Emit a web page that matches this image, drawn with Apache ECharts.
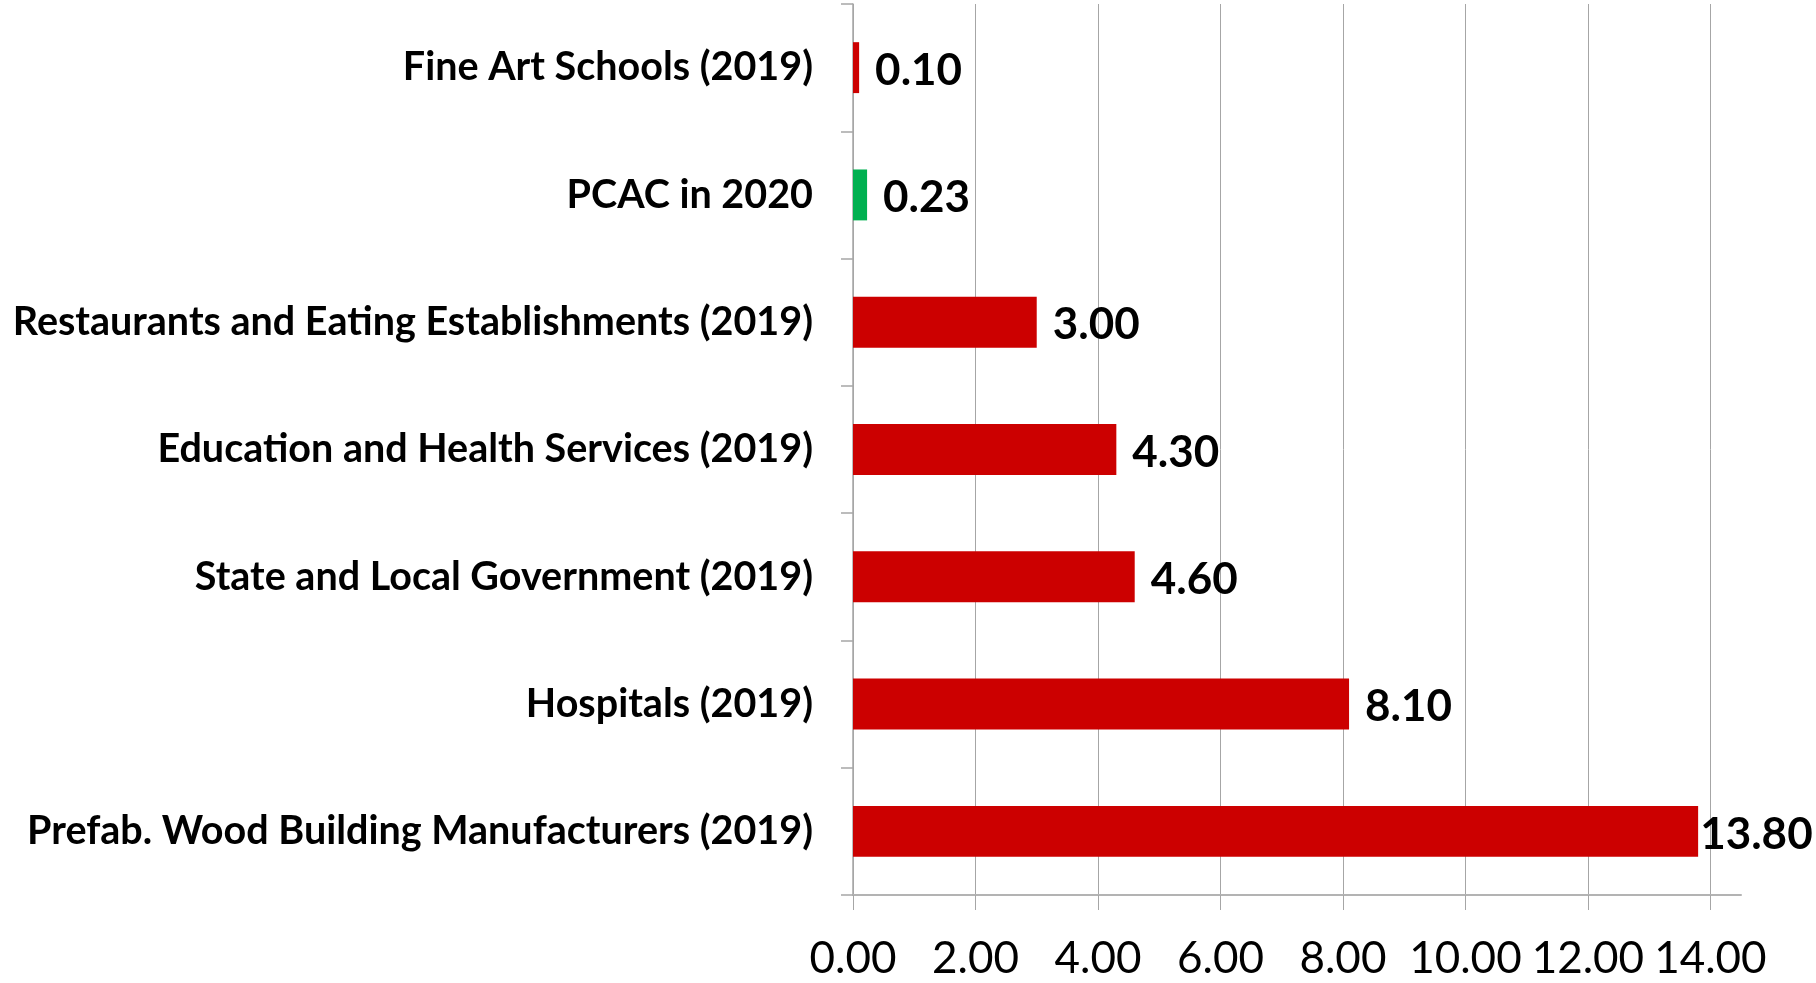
<!DOCTYPE html>
<html lang="en">
<head>
    <meta charset="UTF-8">
    <title>Chart</title>
    <script type="text/javascript" src="https://cdn.jsdelivr.net/npm/echarts@6/dist/echarts.min.js"></script>
    <style>
        html, body { margin: 0; padding: 0; background: #fff; }
        #bars { width: 1816px; height: 983px; }
    </style>
</head>
<body>
    <div id="bars"></div>
    <script>
        // categories listed bottom to top (category axis starts at the bottom)
        var categories = [
            'Prefab. Wood Building Manufacturers (2019)',
            'Hospitals (2019)',
            'State and Local Government (2019)',
            'Education and Health Services (2019)',
            'Restaurants and Eating Establishments (2019)',
            'PCAC in 2020',
            'Fine Art Schools (2019)'
        ];
        var values = [13.8, 8.1, 4.6, 4.3, 3.0, 0.23, 0.10];
        var barColors = ['#CC0000', '#CC0000', '#CC0000', '#CC0000', '#CC0000', '#00B050', '#CC0000'];
        var tickValues = [0, 2, 4, 6, 8, 10, 12, 14];

        var chart = echarts.init(document.getElementById('bars'));

        var data = [];
        for (var i = 0; i < values.length; i++) {
            data[i] = {value: values[i], itemStyle: {color: barColors[i]}};
            // longest bar: label sits tight against the bar end so it fits on the page
            if (values[i] > 13) data[i].label = {distance: 2};
        }

        var option = {
            animation: false,
            backgroundColor: '#ffffff',
            grid: {
                left: 853, right: 75, top: 4, bottom: 88,
                containLabel: false, outerBoundsMode: 'none'
            },
            xAxis: {
                type: 'value',
                min: 0,
                max: 14.5,
                interval: 2,
                axisLine: {show: true, lineStyle: {color: '#b3b3b3', width: 2}},
                axisTick: {show: true, length: 15, customValues: tickValues,
                    lineStyle: {color: '#a6a6a6', width: 1}},
                axisLabel: {
                    customValues: tickValues,
                    margin: 42,
                    fontFamily: 'Lato',
                    fontSize: 44,
                    color: '#000',
                    formatter: function (v) { return v.toFixed(2); }
                },
                splitLine: {show: true, lineStyle: {color: '#a6a6a6', width: 1}}
            },
            yAxis: {
                type: 'category',
                data: categories,
                axisLine: {show: true, lineStyle: {color: '#a6a6a6', width: 1.5}},
                axisTick: {show: true, length: 12, lineStyle: {color: '#a6a6a6', width: 1.5}},
                axisLabel: {
                    margin: 40,
                    fontFamily: 'Lato',
                    fontWeight: 'bold',
                    fontSize: 39.5,
                    color: '#000'
                }
            },
            series: [{
                type: 'bar',
                data: data,
                barWidth: '40%',
                label: {
                    show: true,
                    position: 'right',
                    distance: 16,
                    offset: [0, 3],
                    fontFamily: 'Lato',
                    fontWeight: 'bold',
                    fontSize: 44,
                    color: '#000',
                    formatter: function (p) { return p.value.toFixed(2); }
                }
            }]
        };
        chart.setOption(option);
    </script>
</body>
</html>
